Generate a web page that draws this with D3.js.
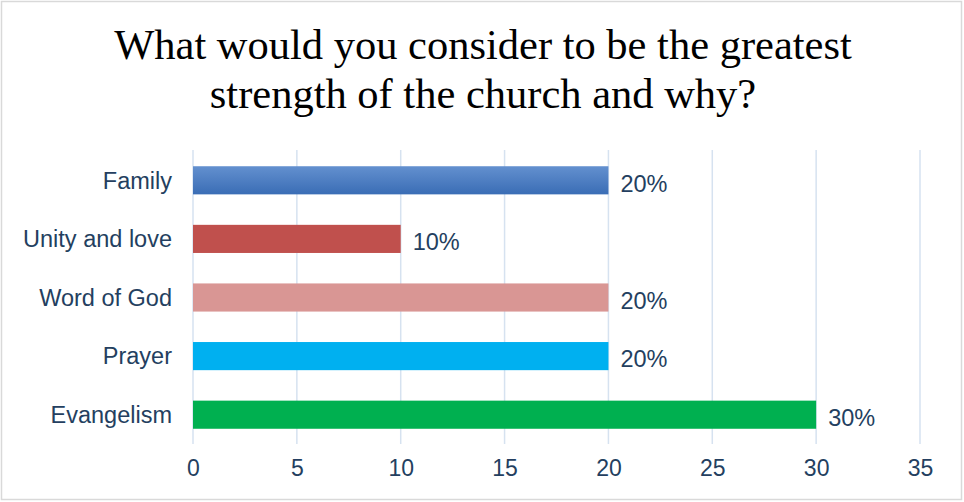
<!DOCTYPE html>
<html><head><meta charset="utf-8">
<script src="https://cdn.jsdelivr.net/npm/d3@7"></script>
<style>body{margin:0;background:#fff}svg{display:block}</style>
</head><body>
<script>
const categories = ["Family","Unity and love","Word of God","Prayer","Evangelism"];
const values = [20,10,20,20,30];
const valueLabels = ["20%","10%","20%","20%","30%"];
const barColors = ["#4a7ebf","#c0504d","#d99694","#00b0f0","#00b050"];
const xTicks = [0,5,10,15,20,25,30,35];
const titleLines = ["What would you consider to be the greatest","strength of the church and why?"];

const W=964,H=502;
const svg=d3.select("body").append("svg").attr("width",W).attr("height",H);
svg.append("rect").attr("x",1.5).attr("y",1.5).attr("width",W-4).attr("height",H-4)
  .attr("fill","#fff").attr("stroke","#d9d9d9").attr("stroke-width",1.5);

const defs=svg.append("defs");
const g0=defs.append("linearGradient").attr("id","famGrad").attr("x1",0).attr("y1",0).attr("x2",0).attr("y2",1);
g0.append("stop").attr("offset","0%").attr("stop-color","#6390cf");
g0.append("stop").attr("offset","100%").attr("stop-color","#3a6db5");

svg.selectAll("text.title").data(titleLines).join("text").attr("class","title")
  .attr("x",483).attr("y",(d,i)=>59+i*49).attr("text-anchor","middle")
  .style("font-family","'Liberation Serif','Times New Roman',serif").style("font-size","42.5px").attr("fill","#000")
  .text(d=>d);

const x=d3.scaleLinear().domain([0,35]).range([193,920]);
const y=d3.scaleBand().domain(categories).range([151,444]).paddingInner(0.52).paddingOuter(0.26);

svg.append("g").selectAll("line").data(xTicks).join("line")
  .attr("x1",d=>x(d)).attr("x2",d=>x(d)).attr("y1",150).attr("y2",444)
  .attr("stroke","#d6e2f0").attr("stroke-width",1.5);

svg.append("g").selectAll("rect").data(categories).join("rect")
  .attr("x",x(0)).attr("y",d=>y(d)).attr("height",y.bandwidth())
  .attr("width",(d,i)=>x(values[i])-x(0))
  .attr("fill",(d,i)=>i===0?"url(#famGrad)":barColors[i]);

const font="'Liberation Sans',Arial,sans-serif";
svg.append("g").selectAll("text").data(categories).join("text")
  .attr("x",172).attr("y",d=>y(d)+y.bandwidth()/2).attr("dy","0.35em").attr("text-anchor","end")
  .style("font-family",font).style("font-size","23.5px").attr("fill","#243f60").text(d=>d);

svg.append("g").selectAll("text").data(categories).join("text")
  .attr("x",(d,i)=>x(values[i])+12).attr("y",d=>y(d)+y.bandwidth()/2+3).attr("dy","0.35em")
  .style("font-family",font).style("font-size","23.5px").attr("fill","#243f60").text((d,i)=>valueLabels[i]);

const ax=svg.append("g").attr("transform","translate(0,444)")
  .call(d3.axisBottom(x).tickValues(xTicks).tickSize(0).tickPadding(16));
ax.select(".domain").remove();
ax.selectAll("text").style("font-family",font).style("font-size","23px").attr("fill","#243f60");
</script>
</body></html>
